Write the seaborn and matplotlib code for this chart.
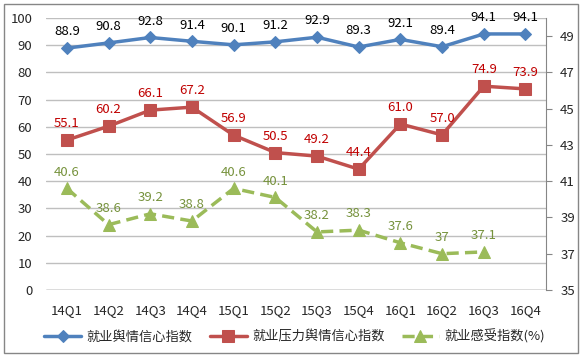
import numpy as np
import pandas as pd
import matplotlib
matplotlib.use('Agg')
import matplotlib.pyplot as plt
import seaborn as sns
from matplotlib.patches import Rectangle

# Data
quarters = ['14Q1', '14Q2', '14Q3', '14Q4', '15Q1', '15Q2',
            '15Q3', '15Q4', '16Q1', '16Q2', '16Q3', '16Q4']
confidence = [88.9, 90.8, 92.8, 91.4, 90.1, 91.2, 92.9, 89.3, 92.1, 89.4, 94.1, 94.1]
pressure = [55.1, 60.2, 66.1, 67.2, 56.9, 50.5, 49.2, 44.4, 61.0, 57.0, 74.9, 73.9]
feeling = [40.6, 38.6, 39.2, 38.8, 40.6, 40.1, 38.2, 38.3, 37.6, 37.0, 37.1]
feeling_labels = ['40.6', '38.6', '39.2', '38.8', '40.6', '40.1', '38.2', '38.3', '37.6', '37', '37.1']

names = ['就业舆情信心指数', '就业压力舆情信心指数', '就业感受指数(%)']

sns.set_style('white')
plt.rcParams['font.family'] = ['Noto Sans CJK SC', 'DejaVu Sans']

blue, red, green = '#4F81BD', '#C0504D', '#9BBB59'

df = pd.DataFrame({'idx': np.arange(len(quarters)), 'q': quarters,
                   'conf': confidence, 'press': pressure})
df_feel = pd.DataFrame({'idx': np.arange(len(feeling)), 'feel': feeling})

fig = plt.figure(figsize=(5.83, 3.58), dpi=100)
ax = fig.add_axes([0.079, 0.19, 0.858, 0.76])
ax2 = ax.twinx()

sns.lineplot(data=df, x='idx', y='conf', ax=ax, color=blue, lw=2.5,
             marker='D', markersize=6, markeredgecolor=blue, label=names[0], legend=False)
sns.lineplot(data=df, x='idx', y='press', ax=ax, color=red, lw=2.5,
             marker='s', markersize=8, markeredgecolor=red, label=names[1], legend=False)
sns.lineplot(data=df_feel, x='idx', y='feel', ax=ax2, color=green, lw=2.5,
             linestyle=(0, (3.5, 1.8)), marker='^', markersize=8, markeredgecolor=green,
             label=names[2], legend=False)

# data labels
for i, v in enumerate(confidence):
    ax.annotate(f'{v:.1f}', (i, v), xytext=(0, 7), textcoords='offset points',
                ha='center', va='bottom', fontsize=9.5, color='black')
for i, v in enumerate(pressure):
    ax.annotate(f'{v:.1f}', (i, v), xytext=(0, 7), textcoords='offset points',
                ha='center', va='bottom', fontsize=9.5, color='#C00000')
for i, v in enumerate(feeling):
    ax2.annotate(feeling_labels[i], (i, v), xytext=(0, 7), textcoords='offset points',
                 ha='center', va='bottom', fontsize=9.5, color='#76923C')

ax.set_xlim(-0.5, len(quarters) - 0.5)
ax.set_ylim(0, 100)
ax.set_yticks(np.arange(0, 101, 10))
ax.set_xticks(np.arange(len(quarters)))
ax.set_xticklabels(quarters)
ax2.set_ylim(35, 50)
ax2.set_yticks(np.arange(35, 50, 2))

ax.set_xlabel('')
ax.set_ylabel('')
ax2.set_ylabel('')
ax.grid(axis='y', color='#BFBFBF', lw=1)
ax.set_axisbelow(True)
for s in ['top', 'left', 'bottom']:
    ax.spines[s].set_visible(False)
    ax2.spines[s].set_visible(False)
ax.spines['right'].set_visible(False)
ax2.spines['right'].set_color('#868686')
ax.axhline(0, color='#868686', lw=1)

ax.tick_params(axis='y', length=0, labelsize=9.5, pad=10)
ax.tick_params(axis='x', length=0, labelsize=9.5, pad=10)
ax2.tick_params(axis='y', direction='out', length=4, color='#868686', labelsize=9.5, pad=6)

handles = ax.get_lines()[:2] + ax2.get_lines()[:1]
fig.legend(handles, names, loc='center', bbox_to_anchor=(0.505, 0.06), ncol=3,
           frameon=False, fontsize=9.5, handlelength=2.8, columnspacing=1.3, handletextpad=0.4)

fig.patches.append(Rectangle((0.007, 0.014), 0.985, 0.975, transform=fig.transFigure,
                             fill=False, edgecolor='#868686', lw=1))

plt.savefig('out.png', dpi=100)
